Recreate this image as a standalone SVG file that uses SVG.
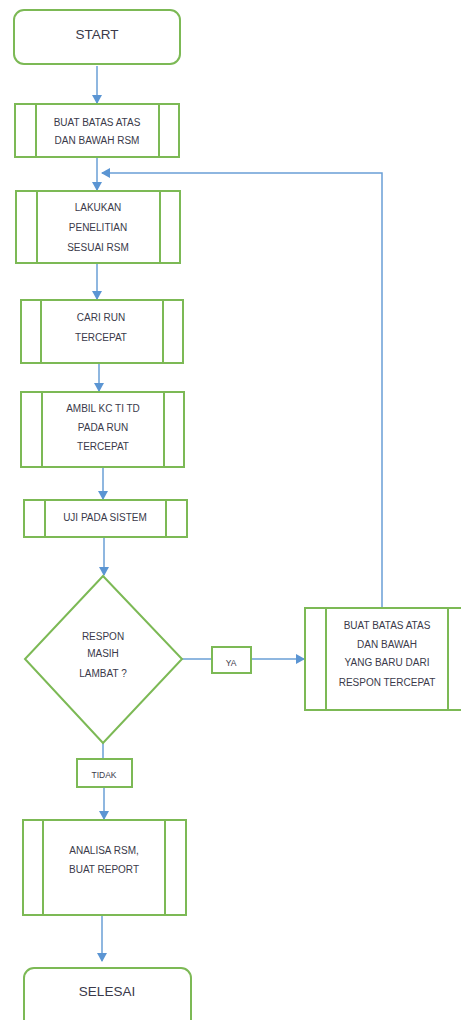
<svg xmlns="http://www.w3.org/2000/svg" width="461" height="1020" viewBox="0 0 461 1020">
<defs>
<style>
.n{fill:#fff;stroke:#7cb955;stroke-width:2}
.d{fill:none;stroke:#7cb955;stroke-width:2}
.c{fill:none;stroke:#6a9fd6;stroke-width:1.5}
text{font-family:"Liberation Sans",Arial,sans-serif;fill:#3a3a4a;text-anchor:middle}
.s{font-size:10px}
.b{font-size:13.5px}
.t{font-size:8.5px}
</style>
<marker id="ah" markerWidth="10" markerHeight="10" refX="8" refY="5" orient="auto" markerUnits="userSpaceOnUse">
<path d="M0,0 L9,5 L0,10 Z" fill="#5b95d3"/>
</marker>
</defs>
<rect width="461" height="1020" fill="#fff"/>
<g id="connectors">
<line class="c" x1="97" y1="66" x2="97" y2="103" marker-end="url(#ah)"/>
<line class="c" x1="97" y1="158" x2="97" y2="190" marker-end="url(#ah)"/>
<polyline class="c" points="382,608 382,173 102,173" marker-end="url(#ah)"/>
<line class="c" x1="97" y1="264" x2="97" y2="299" marker-end="url(#ah)"/>
<line class="c" x1="99" y1="364" x2="99" y2="391" marker-end="url(#ah)"/>
<line class="c" x1="103" y1="468" x2="103" y2="499" marker-end="url(#ah)"/>
<line class="c" x1="104" y1="538" x2="104" y2="575" marker-end="url(#ah)"/>
<line class="c" x1="182" y1="659" x2="212" y2="659"/>
<line class="c" x1="251" y1="659" x2="304" y2="659" marker-end="url(#ah)"/>
<line class="c" x1="103" y1="743" x2="103" y2="759"/>
<line class="c" x1="104" y1="787" x2="104" y2="819" marker-end="url(#ah)"/>
<line class="c" x1="102" y1="916" x2="102" y2="961" marker-end="url(#ah)"/>
</g>
<g id="start">
<rect class="n" x="14" y="10" width="166" height="54" rx="10"/>
<text class="b" x="97" y="39">START</text>
</g>
<g id="buat-batas">
<rect class="n" x="15" y="104" width="164" height="53"/>
<line class="d" x1="36" y1="104" x2="36" y2="157"/>
<line class="d" x1="159" y1="104" x2="159" y2="157"/>
<text class="s" x="97" y="126">BUAT BATAS ATAS</text>
<text class="s" x="97" y="144">DAN BAWAH RSM</text>
</g>
<g id="lakukan">
<rect class="n" x="16" y="191" width="164" height="72"/>
<line class="d" x1="37" y1="191" x2="37" y2="263"/>
<line class="d" x1="160" y1="191" x2="160" y2="263"/>
<text class="s" x="98" y="211">LAKUKAN</text>
<text class="s" x="98" y="231">PENELITIAN</text>
<text class="s" x="98" y="251">SESUAI RSM</text>
</g>
<g id="cari-run">
<rect class="n" x="21" y="300" width="162" height="63"/>
<line class="d" x1="41" y1="300" x2="41" y2="363"/>
<line class="d" x1="163" y1="300" x2="163" y2="363"/>
<text class="s" x="101" y="321">CARI RUN</text>
<text class="s" x="101" y="341">TERCEPAT</text>
</g>
<g id="ambil">
<rect class="n" x="21" y="392" width="163" height="75"/>
<line class="d" x1="42" y1="392" x2="42" y2="467"/>
<line class="d" x1="164" y1="392" x2="164" y2="467"/>
<text class="s" x="103" y="412">AMBIL KC TI TD</text>
<text class="s" x="103" y="431">PADA RUN</text>
<text class="s" x="103" y="450">TERCEPAT</text>
</g>
<g id="uji">
<rect class="n" x="24" y="500" width="163" height="37"/>
<line class="d" x1="45" y1="500" x2="45" y2="537"/>
<line class="d" x1="166" y1="500" x2="166" y2="537"/>
<text class="s" x="105" y="521">UJI PADA SISTEM</text>
</g>
<g id="decision">
<polygon class="n" points="103,576 182,659 103,743 25,659"/>
<text class="s" x="103" y="640">RESPON</text>
<text class="s" x="103" y="657">MASIH</text>
<text class="s" x="103" y="677">LAMBAT ?</text>
</g>
<g id="ya">
<rect class="n" x="212" y="647" width="39" height="26"/>
<text class="t" x="231" y="666">YA</text>
</g>
<g id="buat-baru">
<rect class="n" x="305" y="608" width="160" height="102"/>
<line class="d" x1="326" y1="608" x2="326" y2="710"/>
<line class="d" x1="448" y1="608" x2="448" y2="710"/>
<text class="s" x="387" y="629">BUAT BATAS ATAS</text>
<text class="s" x="387" y="648">DAN BAWAH</text>
<text class="s" x="387" y="666">YANG BARU DARI</text>
<text class="s" x="387" y="686">RESPON TERCEPAT</text>
</g>
<g id="tidak">
<rect class="n" x="77" y="759" width="55" height="28"/>
<text class="t" x="104" y="778">TIDAK</text>
</g>
<g id="analisa">
<rect class="n" x="23" y="820" width="163" height="95"/>
<line class="d" x1="43" y1="820" x2="43" y2="915"/>
<line class="d" x1="165" y1="820" x2="165" y2="915"/>
<text class="s" x="104" y="854">ANALISA RSM,</text>
<text class="s" x="104" y="873">BUAT REPORT</text>
</g>
<g id="selesai">
<rect class="n" x="24" y="968" width="167" height="66" rx="10"/>
<text class="b" x="107" y="996">SELESAI</text>
</g>
</svg>
